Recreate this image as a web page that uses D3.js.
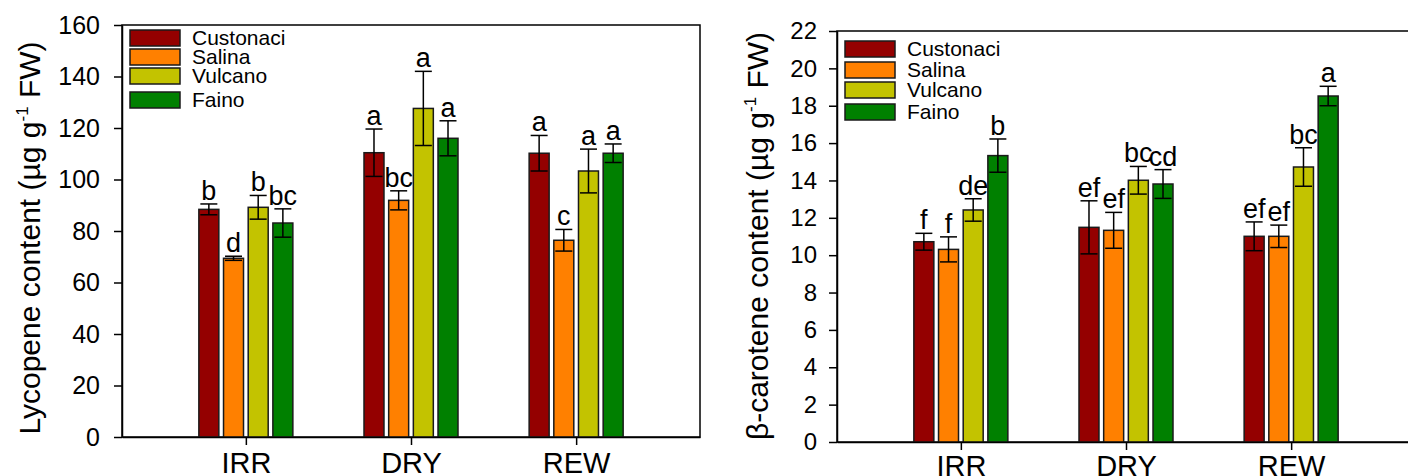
<!DOCTYPE html>
<html>
<head>
<meta charset="utf-8">
<script src="https://cdn.jsdelivr.net/npm/d3@7"></script>
<style>
  body { margin: 0; background: #fff; }
  text { font-family: "Liberation Sans", Arial, sans-serif; fill: #000; }
</style>
</head>
<body>
<div id="container"></div>
<script>
// categories
var treatments = ["IRR", "DRY", "REW"];
var cultivars = ["Custonaci", "Salina", "Vulcano", "Faino"];

// lycopene (ug g-1 FW), one row per treatment, one value per cultivar
var lycopeneMean = [
  [88.4, 69.4, 89.2, 83.1],
  [110.4, 91.9, 127.6, 116.0],
  [110.2, 76.4, 103.3, 110.2]
];
var lycopeneErr = [
  [2.1, 0.8, 4.6, 5.5],
  [9.2, 3.7, 14.4, 6.8],
  [6.9, 4.2, 8.5, 3.6]
];
var lycopeneLetters = [
  ["b", "d", "b", "bc"],
  ["a", "bc", "a", "a"],
  ["a", "c", "a", "a"]
];
var lycopeneTicks = [0, 20, 40, 60, 80, 100, 120, 140, 160];

// beta-carotene (ug g-1 FW)
var caroteneMean = [
  [10.72, 10.31, 12.42, 15.33],
  [11.49, 11.33, 14.01, 13.81],
  [11.01, 11.01, 14.72, 18.52]
];
var caroteneErr = [
  [0.45, 0.67, 0.6, 0.89],
  [1.42, 0.96, 0.74, 0.77],
  [0.77, 0.6, 1.03, 0.52]
];
var caroteneLetters = [
  ["f", "f", "de", "b"],
  ["ef", "ef", "bc", "cd"],
  ["ef", "ef", "bc", "a"]
];
var caroteneTicks = [0, 2, 4, 6, 8, 10, 12, 14, 16, 18, 20, 22];

var colors = ["#940000", "#ff8000", "#c3c300", "#008000"];

var svg = d3.select("#container").append("svg")
    .attr("width", 1408)
    .attr("height", 476);

function drawPanel(p) {
    var g = svg.append("g")
        .attr("transform", "translate(" + p.left + "," + p.top + ")");

    var x = d3.scalePoint()
        .domain(treatments)
        .range([0, p.width])
        .padding(0.75);

    var xs = d3.scaleBand()
        .domain(cultivars)
        .range([-47, 47])
        .paddingInner(0.19);

    var y = d3.scaleLinear()
        .domain([0, p.ticks[p.ticks.length - 1]])
        .range([p.height, 0]);

    // frame
    g.append("rect")
        .attr("width", p.width)
        .attr("height", p.height)
        .attr("fill", "none")
        .attr("stroke", "#000")
        .attr("stroke-width", 1.5);

    var groups = g.selectAll(".grp")
        .data(treatments)
        .enter().append("g")
        .attr("class", "grp")
        .attr("transform", function(d) { return "translate(" + x(d) + ",0)"; });

    var bars = groups.selectAll(".bar")
        .data(function(d, i) {
            return cultivars.map(function(c, j) {
                return { c: c, j: j, v: p.mean[i][j], e: p.err[i][j], l: p.letters[i][j] };
            });
        })
        .enter().append("g")
        .attr("class", "bar");

    bars.append("rect")
        .attr("x", function(d) { return xs(d.c); })
        .attr("width", xs.bandwidth())
        .attr("y", function(d) { return y(d.v); })
        .attr("height", function(d) { return y(0) - y(d.v); })
        .attr("fill", function(d) { return colors[d.j]; })
        .attr("stroke", "#1a1a1a")
        .attr("stroke-width", 1.5);

    var cx = function(d) { return xs(d.c) + xs.bandwidth() / 2; };

    bars.append("line")
        .attr("x1", cx).attr("x2", cx)
        .attr("y1", function(d) { return y(d.v + d.e); })
        .attr("y2", function(d) { return y(d.v - d.e); })
        .attr("stroke", "#000").attr("stroke-width", 1.5);

    [1, -1].forEach(function(s) {
        bars.append("line")
            .attr("x1", function(d) { return cx(d) - 8.5; })
            .attr("x2", function(d) { return cx(d) + 8.5; })
            .attr("y1", function(d) { return y(d.v + s * d.e); })
            .attr("y2", function(d) { return y(d.v + s * d.e); })
            .attr("stroke", "#000").attr("stroke-width", 1.5);
    });

    bars.append("text")
        .attr("x", cx)
        .attr("y", function(d) { return y(d.v + d.e) - 4; })
        .attr("text-anchor", "middle")
        .style("font-size", "27px")
        .text(function(d) { return d.l; });

    // axes
    var yAxis = g.append("g")
        .call(d3.axisLeft(y).tickValues(p.ticks).tickSize(8).tickSizeOuter(0).tickPadding(p.yPad));
    yAxis.selectAll("text").style("font-size", p.tickFont + "px");

    var xAxis = g.append("g")
        .attr("transform", "translate(0," + p.height + ")")
        .call(d3.axisBottom(x).tickSize(8).tickSizeOuter(0).tickPadding(p.xPad));
    xAxis.selectAll("text").style("font-size", "29px");

    g.selectAll(".domain, .tick line").attr("stroke", "#000").attr("stroke-width", 1.5);

    // y title
    var t = g.append("text")
        .attr("transform", "translate(" + p.titleX + "," + p.titleY + ") rotate(-90)")
        .attr("text-anchor", "middle")
        .style("font-size", "30px");
    t.append("tspan").text(p.title + " (\u00b5g g");
    t.append("tspan").attr("dy", -12).style("font-size", "17px").text("-1");
    t.append("tspan").attr("dy", 12).text(" FW)");

    // legend
    var leg = g.selectAll(".leg")
        .data(cultivars)
        .enter().append("g")
        .attr("class", "leg")
        .attr("transform", function(d, i) { return "translate(" + p.legX + "," + p.legRows[i] + ")"; });
    leg.append("rect")
        .attr("width", 50).attr("height", 16)
        .attr("fill", function(d, i) { return colors[i]; })
        .attr("stroke", "#1a1a1a").attr("stroke-width", 1.5);
    leg.append("text")
        .attr("x", 62).attr("y", 15)
        .style("font-size", "21px")
        .text(function(d) { return d; });
}

drawPanel({
    left: 122, top: 25, width: 578, height: 412,
    mean: lycopeneMean, err: lycopeneErr, letters: lycopeneLetters, ticks: lycopeneTicks,
    title: "Lycopene content", titleX: -82, titleY: 213,
    yPad: 14, xPad: 7, tickFont: 25,
    legX: 8, legRows: [5, 24, 43, 67]
});

drawPanel({
    left: 837, top: 31, width: 578, height: 411,
    mean: caroteneMean, err: caroteneErr, letters: caroteneLetters, ticks: caroteneTicks,
    title: "\u03b2-carotene content", titleX: -69, titleY: 205,
    yPad: 12, xPad: 5, tickFont: 24,
    legX: 8, legRows: [10, 31, 51, 73]
});
</script>
</body>
</html>
